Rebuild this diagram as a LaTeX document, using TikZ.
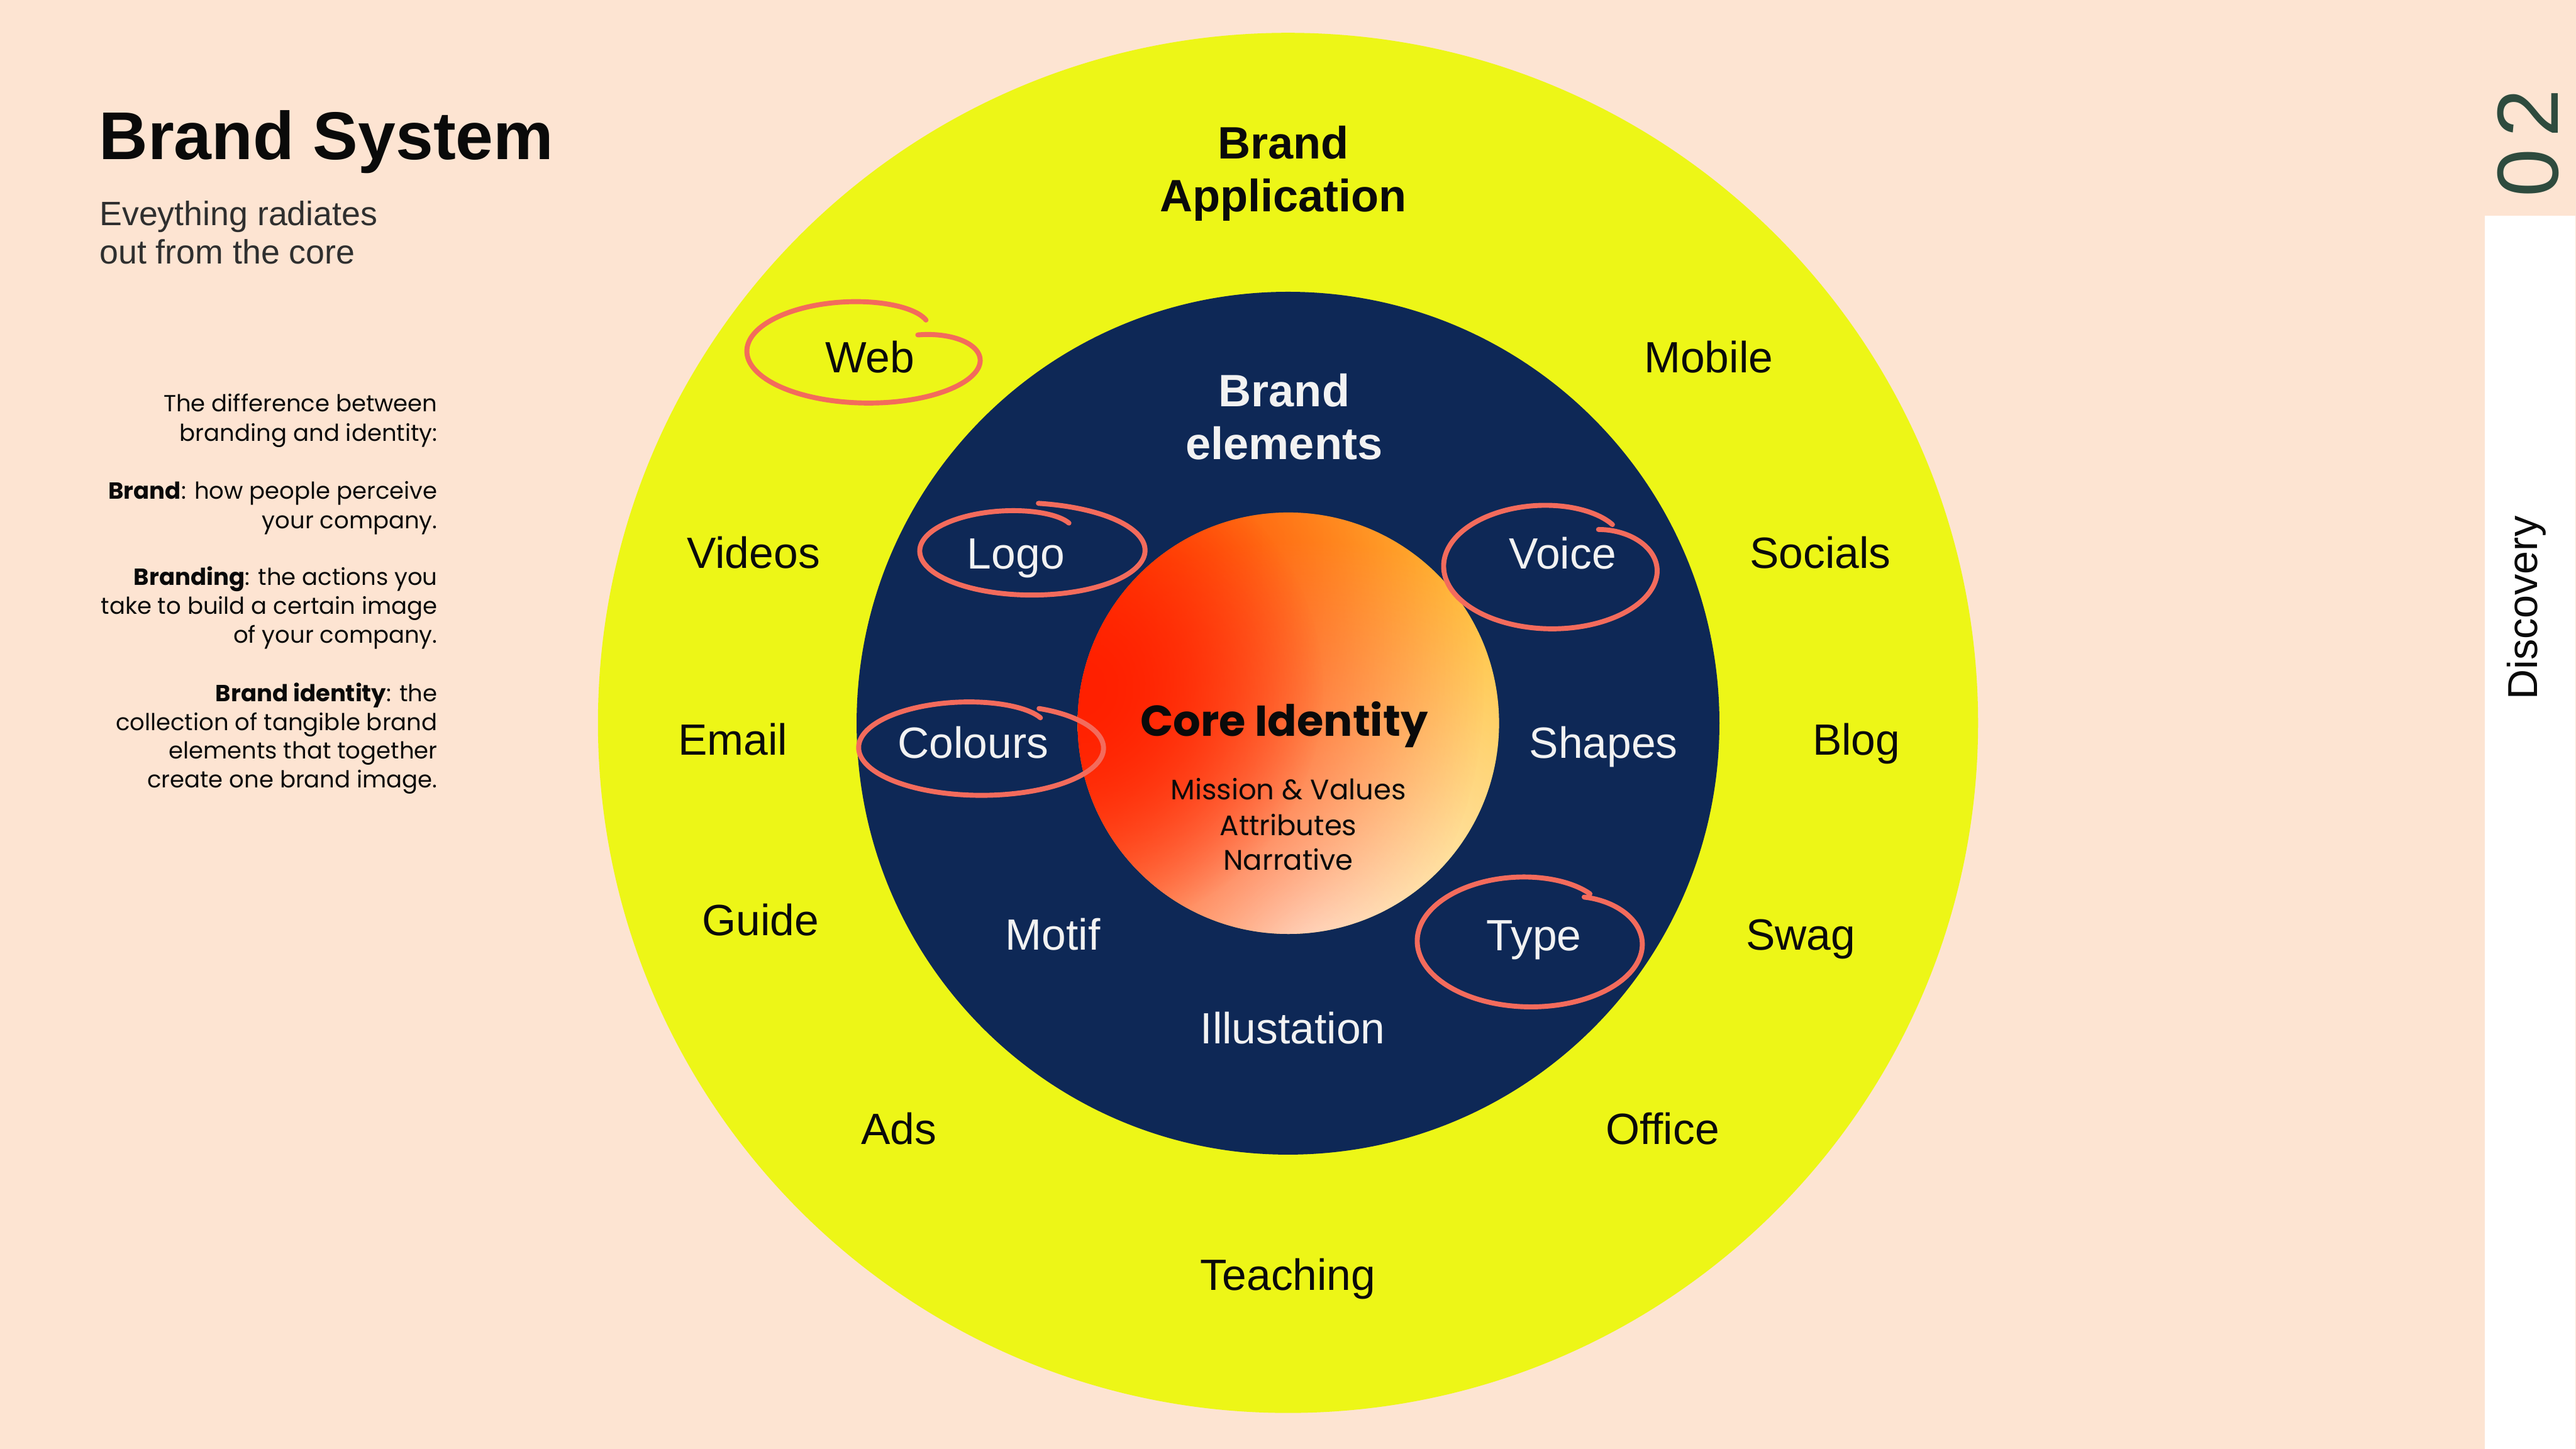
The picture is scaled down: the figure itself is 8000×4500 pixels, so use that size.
\documentclass[tikz,border=0pt]{standalone}
\usepackage{fontspec}
\setmainfont{Liberation Sans}
\newfontfamily\pop{Poppins}
\usetikzlibrary{fadings}
\definecolor{bg}{HTML}{FDE4D2}
\definecolor{ylw}{HTML}{EDF617}
\definecolor{navy}{HTML}{0E2856}
\definecolor{loopc}{HTML}{F36B5C}
\definecolor{offw}{HTML}{F2F2F2}
\definecolor{ink}{HTML}{0A0A0A}
\definecolor{dgreen}{HTML}{2E4B3E}
\definecolor{coreL}{HTML}{FF8A10}
\definecolor{coreR}{HTML}{FFC23A}
\definecolor{coreCream}{HTML}{FFFAE6}
\definecolor{coreRed}{HTML}{FF2000}
\tikzfading[name=blob, inner color=transparent!0, outer color=transparent!100]
\newcommand{\hloop}[8]{%
  \draw[loopline] plot[domain=0.0001:0.9999, samples=160, smooth, variable=\t]
  ({#1 + #3*(1-(1-#7)*(1-\t)^12-(1-#8)*(\t)^12)*cos(#5-#6*\t)},
   {#2 - #4*(1-(1-#7)*(1-\t)^12-(1-#8)*(\t)^12)*sin(#5-#6*\t)});}
\begin{document}
\begin{tikzpicture}[x=0.005cm, y=-0.005cm,
  lab/.style={font=\fontsize{19.35}{22}\selectfont, inner sep=0pt, anchor=base, text=ink},
  wlab/.style={lab, text=offw},
  blab/.style={font=\bfseries\fontsize{20.06}{23}\selectfont, inner sep=0pt, anchor=base, text=ink},
  para/.style={font=\pop\fontsize{10.3}{12.4}\selectfont, inner sep=0pt, anchor=base east, text=ink},
  coretxt/.style={font=\pop\fontsize{12.5}{14}\selectfont, inner sep=0pt, anchor=base, text=ink},
  loopline/.style={draw=loopc, line width=2.2pt, line cap=round, line join=round}]
\useasboundingbox (0,0) rectangle (8000,4500);
\fill[bg] (0,0) rectangle (8000,4500);

% rings
\node[circle, fill=ylw, minimum size=21.45cm, inner sep=0pt] (app) at (4000,2245) {};
\node[circle, fill=navy, minimum size=13.41cm, inner sep=0pt] (elem) at (4000,2246) {};
\node[circle, minimum size=6.55cm, inner sep=0pt] (core) at (4001,2246) {};
\begin{scope}
  \clip (core.center) circle[radius=3.275cm];
  \shade[left color=coreL, right color=coreR] (3340,1585) rectangle (4665,2910);
  \fill[coreCream, path fading=blob] (4060,2960) circle[radius=6.4cm];
  \fill[coreRed, path fading=blob] (3350,2140) circle[radius=6.3cm];
  \fill[coreRed, path fading=blob] (3350,2140) circle[radius=3.8cm];
\end{scope}

% core text
\node[font=\pop\bfseries\fontsize{19.1}{22}\selectfont, inner sep=0pt, anchor=base, text=ink] (coreid) at (3988,2287) {Core Identity};
\node[coretxt] (mission) at (4001,2483) {Mission \& Values};
\node[coretxt] (attr) at (4001,2595) {Attributes};
\node[coretxt] (narr) at (4001,2702) {Narrative};

% brand application ring
\node[blab] (ba1) at (3985,494) {Brand};
\node[blab] (ba2) at (3985,658) {Application};
\node[lab] (web) at (2702,1158) {Web};
\node[lab] (mobile) at (5306,1158) {Mobile};
\node[lab] (videos) at (2340,1765) {Videos};
\node[lab] (socials) at (5653,1765) {Socials};
\node[lab] (email) at (2276,2345) {Email};
\node[lab] (blog) at (5765,2345) {Blog};
\node[lab] (guide) at (2362,2905) {Guide};
\node[lab] (swag) at (5592,2950) {Swag};
\node[lab] (ads) at (2791,3553) {Ads};
\node[lab] (office) at (5163,3553) {Office};
\node[lab] (teaching) at (4000,4007) {Teaching};

% brand elements ring
\node[blab, text=offw] (be1) at (3988,1262) {Brand};
\node[blab, text=offw] (be2) at (3988,1427) {elements};
\node[wlab] (logo) at (3155,1767) {Logo};
\node[wlab] (voice) at (4853,1767) {Voice};
\node[wlab] (colours) at (3022,2355) {Colours};
\node[wlab] (shapes) at (4980,2355) {Shapes};
\node[wlab] (motif) at (3270,2951) {Motif};
\node[wlab] (type) at (4764,2952) {Type};
\node[wlab] (illu) at (4015,3242) {Illustation};

% hand-drawn loops
\hloop{2700}{1090}{381}{162}{38}{346}{0.50}{0.75}
\hloop{3205}{1710}{350}{138}{87}{385}{1.066}{0.70}
\hloop{4821}{1758}{338}{195}{54}{364}{0.72}{0.86}
\hloop{3048}{2321}{382}{149}{60}{368}{0.935}{0.78}
\hloop{4755}{2922}{354}{205}{55}{361}{0.81}{0.88}

% right strip
\fill[white] (7717,669) rectangle (7997,4500);
\node[font=\fontsize{38.4}{40}\selectfont, text=dgreen, inner sep=0pt, anchor=base, rotate=90] (num) at (7945,444) {0\kern5pt2};
\node[font=\fontsize{18.5}{20}\selectfont, text=ink, inner sep=0pt, anchor=base, rotate=90] (disc) at (7879,1888) {Discovery};

% title block
\node[font=\bfseries\fontsize{29.9}{32}\selectfont, text=ink, inner sep=0pt, anchor=base west] (title) at (306,495) {Brand System};
\node[font=\fontsize{14.94}{17}\selectfont, text=ink!85, inner sep=0pt, anchor=base west] (sub1) at (308,700) {Eveything radiates};
\node[font=\fontsize{14.94}{17}\selectfont, text=ink!85, inner sep=0pt, anchor=base west] (sub2) at (308,820) {out from the core};

% paragraph
\node[para] (p1) at (1360,1279) {The difference between};
\node[para] (p2) at (1360,1370) {branding and identity:};
\node[para] (p3) at (1360,1550) {\textbf{Brand}: how people perceive};
\node[para] (p4) at (1360,1641) {your company.};
\node[para] (p5) at (1360,1817) {\textbf{Branding}: the actions you};
\node[para] (p6) at (1360,1908) {take to build a certain image};
\node[para] (p7) at (1360,1998) {of your company.};
\node[para] (p8) at (1360,2179) {\textbf{Brand identity}: the};
\node[para] (p9) at (1360,2268) {collection of tangible brand};
\node[para] (p10) at (1360,2357) {elements that together};
\node[para] (p11) at (1360,2446) {create one brand image.};
\end{tikzpicture}
\end{document}
